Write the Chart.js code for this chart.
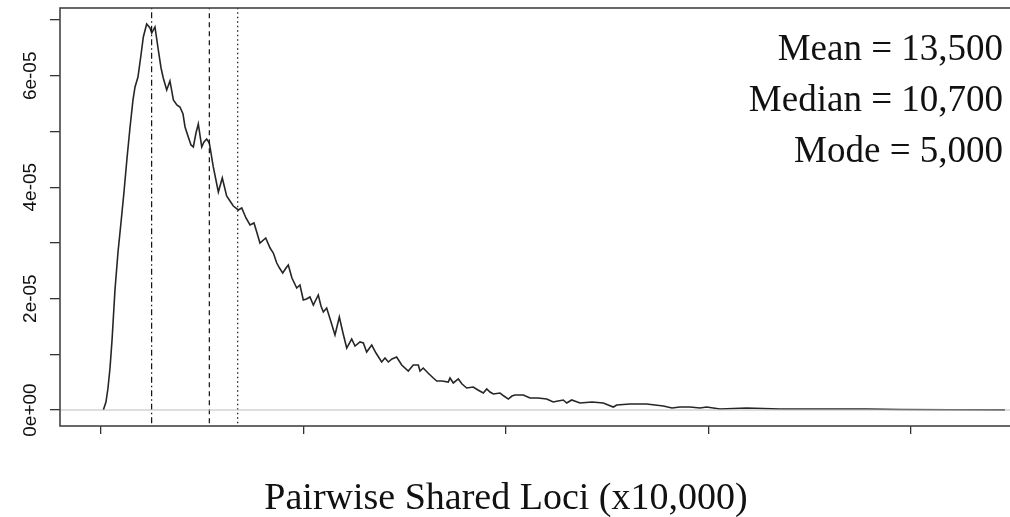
<!DOCTYPE html>
<html>
<head>
<meta charset="utf-8">
<script src="https://cdn.jsdelivr.net/npm/chart.js@4.4.1/dist/chart.umd.min.js"></script>
<style>
  html, body { margin: 0; padding: 0; background: #fff; overflow: hidden; }
  #wrap { position: absolute; left: 0; top: 0; width: 1030px; height: 517px; }
</style>
</head>
<body>
<div id="wrap"><canvas id="densityChart" width="1030" height="517"></canvas></div>
<script>
// pairwise shared loci, in units of 10,000
const lociX = [
  0.023, 0.049, 0.069, 0.089, 0.109, 0.138, 0.168, 0.198, 0.227, 0.257, 0.286, 0.316, 0.336, 0.365,
  0.395, 0.418, 0.451, 0.484, 0.501, 0.533, 0.566, 0.593, 0.615, 0.649, 0.681, 0.715, 0.749, 0.780,
  0.810, 0.830, 0.862, 0.889, 0.912, 0.938, 0.961, 0.995, 1.017, 1.044, 1.070, 1.109, 1.159, 1.198,
  1.241, 1.274, 1.307, 1.356, 1.390, 1.432, 1.472, 1.511, 1.541, 1.570, 1.627, 1.670, 1.702, 1.736,
  1.763, 1.795, 1.827, 1.850, 1.886, 1.933, 1.965, 1.998, 2.030, 2.064, 2.097, 2.146, 2.173, 2.196,
  2.229, 2.272, 2.311, 2.354, 2.390, 2.427, 2.476, 2.509, 2.558, 2.591, 2.624, 2.674, 2.716, 2.772,
  2.805, 2.838, 2.874, 2.920, 2.970, 3.035, 3.084, 3.134, 3.151, 3.183, 3.230, 3.282, 3.316, 3.368,
  3.430, 3.447, 3.480, 3.529, 3.566, 3.612, 3.677, 3.723, 3.776, 3.810, 3.842, 3.875, 3.941, 3.980,
  4.023, 4.059, 4.089, 4.171, 4.237, 4.316, 4.402, 4.467, 4.514, 4.566, 4.600, 4.649, 4.731, 4.850,
  4.961, 5.060, 5.094, 5.225, 5.390, 5.472, 5.554, 5.640, 5.719, 5.817, 5.916, 5.982, 6.114, 6.377,
  6.706, 7.035, 7.563, 7.891, 8.385, 8.928
];
// density, in units of 1e-05
const densityE5 = [
  0.000, 0.144, 0.395, 0.754, 1.257, 2.154, 2.837, 3.375, 3.914, 4.524, 5.063, 5.566, 5.799, 5.978,
  6.373, 6.697, 6.930, 6.858, 6.768, 6.876, 6.463, 6.140, 5.961, 5.745, 5.907, 5.566, 5.476, 5.440,
  5.314, 5.081, 4.901, 4.758, 4.722, 4.973, 5.135, 4.722, 4.811, 4.865, 4.794, 4.363, 3.914, 4.165,
  3.842, 3.752, 3.662, 3.591, 3.627, 3.447, 3.321, 3.357, 3.178, 2.998, 3.088, 2.908, 2.819, 2.639,
  2.549, 2.460, 2.549, 2.603, 2.370, 2.190, 2.244, 1.975, 1.993, 2.029, 1.885, 2.065, 1.867, 1.759,
  1.831, 1.580, 1.347, 1.670, 1.382, 1.113, 1.275, 1.149, 1.221, 1.203, 1.041, 1.167, 1.023, 0.862,
  0.934, 0.862, 0.916, 0.952, 0.808, 0.700, 0.808, 0.808, 0.700, 0.754, 0.664, 0.575, 0.521, 0.521,
  0.503, 0.575, 0.485, 0.557, 0.467, 0.395, 0.413, 0.359, 0.305, 0.377, 0.323, 0.287, 0.305, 0.251,
  0.197, 0.251, 0.269, 0.269, 0.215, 0.215, 0.197, 0.144, 0.162, 0.180, 0.126, 0.180, 0.126, 0.144,
  0.126, 0.054, 0.090, 0.108, 0.108, 0.090, 0.072, 0.036, 0.054, 0.054, 0.036, 0.054, 0.018, 0.036,
  0.018, 0.018, 0.018, 0.009, 0.005, 0.002
];

const statLabels = ["Mean", "Median", "Mode"];
const statValues = [13500, 10700, 5000];
const statDash = [[1.5, 3], [5, 4], [6, 3, 1.5, 3]];

const xTicks = [0, 2, 4, 6, 8];
const yTicks = [0, 1, 2, 3, 4, 5, 6, 7];
const yLabelled = [0, 2, 4, 6];
const xTitle = "Pairwise Shared Loci (x10,000)";

const X_MIN = -0.405, X_MAX = 9.077;
const Y_MIN = -0.287, Y_MAX = 7.217;

const fmtY = (v) => (v === 0 ? "0e+00" : v + "e-05");
const fmtNum = (n) => n.toLocaleString("en-US");

const datasets = [
  {
    data: [{ x: X_MIN, y: 0 }, { x: X_MAX, y: 0 }],
    borderColor: "#bdbdbd", borderWidth: 1.2
  }
];
statValues.forEach((v, i) => {
  datasets.push({
    data: [{ x: v / 10000, y: Y_MIN + 0.05 }, { x: v / 10000, y: Y_MAX }],
    borderColor: "#111", borderWidth: 1.2, borderDash: statDash[i]
  });
});
datasets.push({
  data: lociX.map((x, i) => ({ x, y: densityE5[i] })),
  borderColor: "#262626", borderWidth: 1.6
});

const boxPlugin = {
  id: "rbox",
  afterDraw(chart) {
    const { ctx, chartArea: a } = chart;
    ctx.save();
    ctx.strokeStyle = "#444";
    ctx.lineWidth = 1.6;
    ctx.strokeRect(a.left, a.top, a.right - a.left, a.bottom - a.top);

    ctx.fillStyle = "#111";
    ctx.font = "37px 'Liberation Serif'";
    ctx.textAlign = "right";
    ctx.textBaseline = "alphabetic";
    statLabels.forEach((lab, i) => {
      ctx.fillText(lab + " = " + fmtNum(statValues[i]), 1003, 60 + i * 51);
    });

    ctx.textAlign = "center";
    ctx.font = "38px 'Liberation Serif'";
    ctx.fillText(xTitle, 506, 509);
    ctx.restore();
  }
};

new Chart(document.getElementById("densityChart"), {
  type: "scatter",
  data: { datasets },
  plugins: [boxPlugin],
  options: {
    responsive: false,
    animation: false,
    devicePixelRatio: 1,
    layout: { padding: { left: 0, top: 8, right: 10, bottom: 0 } },
    elements: { point: { radius: 0 }, line: { tension: 0, fill: false } },
    datasets: { scatter: { showLine: true } },
    plugins: { legend: { display: false }, tooltip: { enabled: false } },
    scales: {
      x: {
        type: "linear", min: X_MIN, max: X_MAX,
        afterBuildTicks: (s) => { s.ticks = xTicks.map((v) => ({ value: v })); },
        ticks: { display: false },
        grid: { drawOnChartArea: false, drawTicks: true, tickLength: 8, color: "#333", lineWidth: 1.3 },
        border: { display: false },
        afterFit: (s) => { s.height = 91; s.paddingLeft = 0; s.paddingRight = 0; }
      },
      y: {
        type: "linear", min: Y_MIN, max: Y_MAX,
        afterBuildTicks: (s) => { s.ticks = yTicks.map((v) => ({ value: v })); },
        ticks: {
          minRotation: 90, maxRotation: 90, crossAlign: "center", padding: -7,
          color: "#111", font: { family: "'Liberation Sans'", size: 19 },
          callback: (v) => (yLabelled.includes(v) ? fmtY(v) : "")
        },
        grid: { drawOnChartArea: false, drawTicks: true, tickLength: 10, color: "#333", lineWidth: 1.3 },
        border: { display: false },
        afterFit: (s) => { s.width = 60; s.paddingTop = 0; s.paddingBottom = 0; }
      }
    }
  }
});
</script>
</body>
</html>
